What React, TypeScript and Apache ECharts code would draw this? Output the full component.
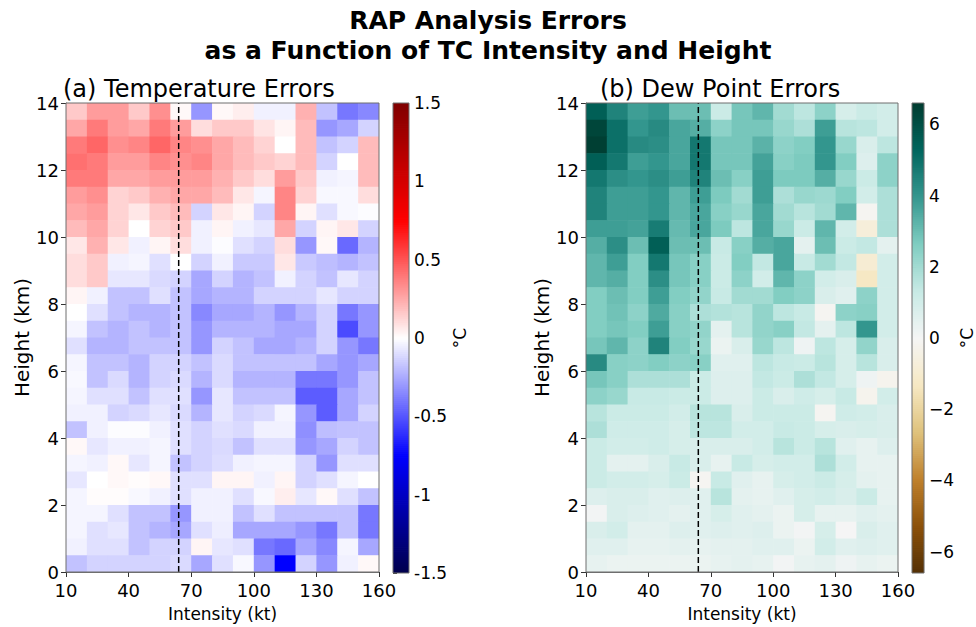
import React, { useEffect, useRef } from "react";
import * as echarts from "echarts";

// Bin centres: 10-kt intensity bins and 0.5-km height layers
const INTENSITY_BINS = [15, 25, 35, 45, 55, 65, 75, 85, 95, 105, 115, 125, 135, 145, 155];
const HEIGHT_BINS = [
  13.75, 13.25, 12.75, 12.25, 11.75, 11.25, 10.75, 10.25, 9.75, 9.25, 8.75, 8.25, 7.75, 7.25,
  6.75, 6.25, 5.75, 5.25, 4.75, 4.25, 3.75, 3.25, 2.75, 2.25, 1.75, 1.25, 0.75, 0.25,
];
const BIN_WIDTH_KT = 10;
const BIN_DEPTH_KM = 0.5;
const HURRICANE_KT = 64;

const X_TICKS = [10, 40, 70, 100, 130, 160];
const Y_TICKS = [0, 2, 4, 6, 8, 10, 12, 14];
const TEMP_TICKS = [-1.5, -1, -0.5, 0, 0.5, 1, 1.5];
const DEW_TICKS = [-6, -4, -2, 0, 2, 4, 6];
const TEMP_LIMIT = 1.5;
const DEW_LIMIT = 6.6;

// Temperature analysis error (°C), rows from 14 km down to 0 km
const TEMP_ERR = [
  [0.16, 0.29, 0.29, 0.16, 0.33, 0.02, -0.31, 0.02, 0.05, -0.04, -0.04, 0.23, -0.18, -0.4, -0.35],
  [0.26, 0.39, 0.29, 0.26, 0.39, 0.29, 0.1, 0.16, 0.16, 0.08, 0.03, 0.2, -0.31, -0.26, -0.13],
  [0.39, 0.45, 0.33, 0.36, 0.45, 0.36, 0.33, 0.26, 0.2, 0.13, 0.0, 0.2, -0.18, -0.13, 0.2],
  [0.42, 0.39, 0.29, 0.29, 0.36, 0.33, 0.36, 0.26, 0.2, 0.16, 0.13, 0.2, -0.13, 0.0, 0.2],
  [0.39, 0.39, 0.26, 0.26, 0.29, 0.29, 0.29, 0.23, 0.16, 0.1, 0.29, 0.16, -0.04, -0.03, 0.2],
  [0.29, 0.33, 0.13, 0.16, 0.23, 0.26, 0.26, 0.2, 0.07, -0.03, 0.36, 0.13, -0.02, -0.02, 0.1],
  [0.26, 0.29, 0.13, 0.07, 0.16, 0.2, -0.13, 0.07, 0.03, -0.13, 0.36, 0.03, -0.09, -0.02, -0.01],
  [0.2, 0.26, 0.13, 0.0, 0.13, 0.16, -0.04, 0.03, -0.04, -0.07, 0.26, -0.13, 0.03, 0.07, -0.13],
  [0.07, 0.23, 0.07, -0.04, 0.03, 0.1, -0.04, -0.01, -0.09, -0.13, 0.1, -0.31, 0.02, -0.44, -0.22],
  [0.1, 0.16, -0.04, -0.03, -0.09, 0.0, -0.13, -0.04, -0.16, -0.16, 0.07, -0.16, -0.19, -0.22, -0.18],
  [0.1, 0.16, -0.07, -0.07, -0.11, -0.13, -0.26, -0.13, -0.22, -0.18, -0.04, -0.13, -0.18, -0.07, -0.13],
  [0.03, -0.04, -0.18, -0.18, -0.09, -0.18, -0.26, -0.22, -0.22, -0.13, -0.13, -0.13, -0.07, -0.13, -0.13],
  [0.0, -0.09, -0.18, -0.22, -0.22, -0.18, -0.35, -0.26, -0.26, -0.22, -0.31, -0.22, -0.13, -0.4, -0.31],
  [-0.03, -0.18, -0.22, -0.18, -0.22, -0.18, -0.31, -0.22, -0.22, -0.22, -0.26, -0.26, -0.13, -0.53, -0.31],
  [-0.09, -0.22, -0.22, -0.18, -0.18, -0.18, -0.31, -0.13, -0.18, -0.26, -0.26, -0.22, -0.13, -0.31, -0.4],
  [-0.03, -0.18, -0.18, -0.22, -0.13, -0.13, -0.18, -0.11, -0.18, -0.18, -0.18, -0.18, -0.26, -0.31, -0.26],
  [-0.02, -0.18, -0.11, -0.22, -0.13, -0.11, -0.22, -0.11, -0.22, -0.22, -0.22, -0.4, -0.4, -0.31, -0.18],
  [-0.03, -0.09, -0.09, -0.18, -0.09, -0.09, -0.31, -0.07, -0.18, -0.18, -0.18, -0.48, -0.48, -0.26, -0.18],
  [-0.04, -0.04, -0.13, -0.11, -0.07, -0.11, -0.22, -0.07, -0.13, -0.11, -0.03, -0.31, -0.48, -0.26, -0.13],
  [-0.18, -0.04, -0.01, -0.01, -0.04, -0.09, -0.13, -0.09, -0.11, -0.04, -0.04, -0.33, -0.19, -0.18, -0.18],
  [0.02, -0.07, -0.04, -0.04, -0.03, -0.09, -0.13, -0.11, -0.18, -0.09, -0.09, -0.31, -0.26, -0.13, -0.18],
  [-0.03, -0.04, 0.02, -0.07, -0.03, -0.18, -0.13, -0.1, -0.04, -0.03, -0.03, -0.13, -0.31, -0.09, -0.09],
  [-0.07, 0.0, 0.02, 0.01, 0.02, -0.09, -0.09, 0.03, 0.03, -0.04, 0.03, -0.13, -0.09, -0.03, 0.0],
  [-0.03, 0.01, 0.01, -0.02, -0.04, -0.09, -0.04, -0.04, -0.09, -0.02, 0.05, -0.07, 0.02, -0.09, -0.18],
  [-0.03, -0.03, -0.09, -0.18, -0.18, -0.31, -0.04, -0.04, -0.18, -0.09, -0.18, -0.18, -0.18, -0.18, -0.4],
  [-0.03, -0.09, -0.07, -0.18, -0.22, -0.26, -0.09, -0.05, -0.26, -0.26, -0.26, -0.31, -0.4, -0.18, -0.4],
  [-0.04, -0.09, -0.09, -0.18, -0.13, -0.13, 0.03, -0.07, -0.09, -0.4, -0.44, -0.26, -0.35, -0.03, -0.26],
  [-0.18, -0.13, -0.13, -0.13, -0.13, -0.11, -0.26, -0.09, -0.02, -0.31, -0.75, -0.13, -0.31, -0.04, 0.02],
];

// Dew point analysis error (°C), rows from 14 km down to 0 km
const DEW_ERR = [
  [5.5, 4.5, 3.8, 4.0, 3.0, 3.0, 1.2, 2.8, 3.2, 2.0, 1.5, 2.4, 0.9, 1.2, 1.0],
  [6.3, 5.0, 4.0, 4.3, 3.6, 3.4, 2.4, 2.8, 2.8, 2.2, 1.8, 3.8, 1.6, 1.5, 1.0],
  [6.5, 5.0, 4.3, 4.2, 3.6, 4.8, 2.8, 2.8, 3.3, 2.4, 2.6, 4.0, 2.2, 0.8, 1.5],
  [5.5, 4.8, 3.8, 4.0, 3.6, 4.8, 2.8, 2.8, 3.7, 2.5, 2.7, 4.0, 2.6, 0.7, 2.4],
  [4.8, 4.2, 4.0, 4.2, 3.8, 4.5, 3.0, 2.5, 3.8, 2.7, 2.7, 3.4, 2.2, 1.2, 2.4],
  [4.5, 3.8, 3.8, 4.0, 3.2, 3.8, 2.7, 2.0, 3.8, 1.8, 2.2, 2.1, 2.6, 1.0, 1.8],
  [4.5, 3.8, 3.8, 4.0, 3.2, 3.6, 2.5, 2.2, 3.6, 2.0, 1.6, 2.0, 3.2, -0.1, 1.8],
  [3.8, 3.8, 3.7, 4.7, 3.1, 3.6, 2.7, 1.5, 3.6, 2.2, 1.2, 3.2, 1.0, -0.7, 1.8],
  [3.4, 4.2, 3.0, 5.5, 3.0, 3.0, 1.3, 2.5, 3.4, 3.6, 0.5, 3.0, 1.2, 1.4, 0.5],
  [3.2, 3.8, 2.6, 4.8, 2.8, 2.5, 1.2, 2.6, 1.4, 3.6, 1.3, 2.0, 1.4, -0.9, 1.0],
  [3.2, 3.4, 2.6, 4.2, 2.8, 2.5, 1.2, 2.4, 1.0, 3.2, 2.4, 1.0, 0.8, -1.3, 1.0],
  [2.6, 3.0, 2.6, 3.8, 2.6, 2.3, 1.3, 2.0, 2.0, 2.6, 2.4, 0.8, 0.6, 2.4, 1.0],
  [2.6, 2.9, 2.4, 3.5, 2.5, 1.8, 1.7, 1.6, 2.3, 1.5, 1.3, -0.1, 2.4, 2.5, 1.0],
  [2.6, 2.8, 2.6, 3.8, 2.5, 2.3, 0.5, 1.6, 2.3, 2.5, 1.4, 0.5, 1.5, 4.0, 1.0],
  [2.8, 3.2, 2.4, 4.5, 2.6, 2.2, 0.3, 0.8, 2.2, 1.5, 0.2, 1.5, 0.9, 2.3, 0.8],
  [4.3, 2.5, 2.4, 2.6, 2.4, 2.5, 0.6, 0.6, 1.5, 1.3, 1.2, 1.6, 0.9, 1.6, 0.8],
  [2.8, 2.5, 1.8, 1.8, 1.8, 1.2, 0.7, 0.7, 1.4, 1.2, 1.8, 1.4, 0.9, 0.2, -0.2],
  [2.4, 2.2, 1.3, 1.3, 1.2, 1.2, 0.7, 0.7, 1.2, 0.8, 1.1, 0.9, 1.3, -0.2, 1.0],
  [1.6, 1.2, 1.2, 1.2, 1.0, 1.6, 1.6, 0.8, 1.2, 1.2, 1.2, -0.1, 1.1, 1.0, 0.8],
  [1.8, 1.1, 1.1, 1.1, 0.9, 1.5, 1.5, 1.0, 1.0, 1.3, 1.2, 0.9, 0.8, 0.9, 0.8],
  [1.2, 1.0, 1.0, 1.1, 0.9, 0.8, 0.8, 0.8, 1.0, 1.6, 1.2, 1.6, 0.6, 0.4, 0.7],
  [1.2, 0.5, 0.5, 0.8, 1.3, 0.8, 0.4, 1.3, 0.9, 1.0, 1.0, 1.8, 1.0, 0.4, 0.4],
  [1.2, 1.0, 1.0, 0.9, 1.2, -0.1, 1.3, 0.6, 0.4, 0.9, 1.0, 1.2, 0.9, 0.5, 0.4],
  [0.7, 0.8, 0.8, 0.6, 0.7, 0.6, 1.6, 0.5, 0.4, 0.6, 0.9, 1.0, 0.8, 1.2, 0.4],
  [0.1, 0.8, 0.7, 0.6, 0.5, 0.6, 0.9, 0.6, 0.5, 0.3, 0.9, 0.4, 0.4, 0.6, 0.5],
  [0.8, 1.0, 0.5, 0.5, 0.7, 0.6, 0.7, 0.6, 0.7, 0.3, 0.1, 0.9, 0.0, 0.8, 0.6],
  [0.6, 0.6, 0.4, 0.4, 0.5, 0.4, 0.5, 0.5, 0.6, 0.6, 0.3, 1.0, 0.6, 0.7, 0.6],
  [0.4, 0.3, 0.3, 0.3, 0.3, 0.3, 0.4, 0.5, 0.4, 0.1, 0.4, 0.5, 0.2, 0.4, 0.3],
];

// Diverging colour maps (seismic and BrBG)
const SEISMIC = ["#00004d", "#0000ff", "#ffffff", "#ff0000", "#800000"];
const BRBG = [
  "#543005", "#8c510a", "#bf812d", "#dfc27d", "#f6e8c3", "#f5f5f5",
  "#c7eae5", "#80cdc1", "#35978f", "#01665e", "#003c30",
];

const FONT = "DejaVu Sans";
const TEXT = "#000";
const SPINE = "#6f6f6f";

const PANEL_TOP = 103;
const PANEL_HEIGHT = 470;

function cells(grid: number[][]) {
  const out: number[][] = [];
  grid.forEach((row, r) => {
    row.forEach((v, c) => out.push([INTENSITY_BINS[c], HEIGHT_BINS[r], v]));
  });
  return out;
}

// Evenly spaced swatches spanning a colour bar's range
function colourSteps(limit: number, n: number) {
  const out: number[][] = [];
  const step = (2 * limit) / n;
  for (let i = 0; i < n; i++) {
    const v = -limit + step * (i + 0.5);
    out.push([0.5, v, v, step]);
  }
  return out;
}

const cellRenderer = (params: any, api: any) => {
  const x = api.value(0);
  const y = api.value(1);
  const p0 = api.coord([x - BIN_WIDTH_KT / 2, y + BIN_DEPTH_KM / 2]);
  const p1 = api.coord([x + BIN_WIDTH_KT / 2, y - BIN_DEPTH_KM / 2]);
  return {
    type: "rect",
    shape: { x: p0[0], y: p0[1], width: p1[0] - p0[0] + 0.6, height: p1[1] - p0[1] + 0.6 },
    style: { fill: api.visual("color"), stroke: null },
  };
};

const barRenderer = (params: any, api: any) => {
  const v = api.value(1);
  const step = api.value(3);
  const p0 = api.coord([0, v + step / 2]);
  const p1 = api.coord([1, v - step / 2]);
  return {
    type: "rect",
    shape: { x: p0[0], y: p0[1] - 0.4, width: p1[0] - p0[0], height: p1[1] - p0[1] + 0.8 },
    style: { fill: api.visual("color"), stroke: null },
  };
};

const tickLabel = { color: TEXT, fontFamily: FONT, fontSize: 18 };

function mainAxes(idx: number) {
  const x = {
    type: "value",
    gridIndex: idx,
    min: 10,
    max: 160,
    name: "Intensity (kt)",
    nameLocation: "middle",
    nameGap: 33,
    nameTextStyle: { color: TEXT, fontFamily: FONT, fontSize: 17 },
    axisLine: { show: true, lineStyle: { color: SPINE, width: 1 } },
    axisTick: { show: true, inside: false, length: 5, lineStyle: { color: "#333" }, customValues: X_TICKS },
    axisLabel: { ...tickLabel, margin: 9, customValues: X_TICKS },
    splitLine: { show: false },
  };
  const y = {
    type: "value",
    gridIndex: idx,
    min: 0,
    max: 14,
    interval: 2,
    name: "Height (km)",
    nameLocation: "middle",
    nameGap: 31,
    nameRotate: 90,
    nameTextStyle: { color: TEXT, fontFamily: FONT, fontSize: 20 },
    axisLine: { show: true, lineStyle: { color: SPINE, width: 1 } },
    axisTick: { show: true, inside: false, length: 5, lineStyle: { color: "#333" }, customValues: Y_TICKS },
    axisLabel: { ...tickLabel, margin: 7, customValues: Y_TICKS },
    splitLine: { show: false },
  };
  return { x, y };
}

function barAxes(idx: number, limit: number, ticks: number[], fmt: (v: number) => string) {
  const x = {
    type: "value",
    gridIndex: idx,
    min: 0,
    max: 1,
    show: false,
  };
  const y = {
    type: "value",
    gridIndex: idx,
    position: "right",
    min: -limit,
    max: limit,
    name: "°C",
    nameLocation: "middle",
    nameGap: 30,
    nameRotate: 90,
    nameTextStyle: { color: TEXT, fontFamily: FONT, fontSize: 17 },
    axisLine: { show: false },
    axisTick: { show: true, inside: false, length: 4, lineStyle: { color: "#333" }, customValues: ticks },
    axisLabel: { ...tickLabel, fontSize: 17, margin: 5, customValues: ticks, formatter: fmt },
    splitLine: { show: false },
  };
  return { x, y };
}

export default function App() {
  const ref = useRef<HTMLDivElement>(null);

  useEffect(() => {
    if (!ref.current) return;
    const chart = echarts.init(ref.current, null, { renderer: "svg" });

    const a = mainAxes(0);
    const b = mainAxes(1);
    const ca = barAxes(2, TEMP_LIMIT, TEMP_TICKS, (v) => String(v));
    const cb = barAxes(3, DEW_LIMIT, DEW_TICKS, (v) => String(v).replace("-", "\u2212"));

    const frame = { show: true, borderColor: SPINE, borderWidth: 1, backgroundColor: "transparent", z: 10 };

    chart.setOption({
      animation: false,
      backgroundColor: "#ffffff",
      textStyle: { fontFamily: FONT },
      grid: [
        { left: 66, top: PANEL_TOP, width: 313, height: PANEL_HEIGHT, ...frame },
        { left: 586, top: PANEL_TOP, width: 312, height: PANEL_HEIGHT, ...frame },
        { left: 393, top: PANEL_TOP, width: 16, height: PANEL_HEIGHT, ...frame },
        { left: 912, top: PANEL_TOP, width: 16, height: PANEL_HEIGHT, ...frame },
      ],
      xAxis: [a.x, b.x, ca.x, cb.x],
      yAxis: [a.y, b.y, ca.y, cb.y],
      visualMap: [
        {
          type: "continuous",
          show: false,
          min: -TEMP_LIMIT,
          max: TEMP_LIMIT,
          dimension: 2,
          seriesIndex: [0, 2],
          inRange: { color: SEISMIC },
        },
        {
          type: "continuous",
          show: false,
          min: -DEW_LIMIT,
          max: DEW_LIMIT,
          dimension: 2,
          seriesIndex: [3, 5],
          inRange: { color: BRBG },
        },
      ],
      series: [
        {
          type: "custom",
          xAxisIndex: 0,
          yAxisIndex: 0,
          data: cells(TEMP_ERR),
          encode: { x: 0, y: 1 },
          renderItem: cellRenderer,
          clip: true,
        },
        {
          type: "line",
          xAxisIndex: 0,
          yAxisIndex: 0,
          data: [[HURRICANE_KT, 0], [HURRICANE_KT, 14]],
          symbol: "none",
          lineStyle: { color: "#000", width: 1.5, type: [6, 3] },
          z: 5,
        },
        {
          type: "custom",
          xAxisIndex: 2,
          yAxisIndex: 2,
          data: colourSteps(TEMP_LIMIT, 240),
          encode: { x: 0, y: 1 },
          renderItem: barRenderer,
          clip: true,
        },
        {
          type: "custom",
          xAxisIndex: 1,
          yAxisIndex: 1,
          data: cells(DEW_ERR),
          encode: { x: 0, y: 1 },
          renderItem: cellRenderer,
          clip: true,
        },
        {
          type: "line",
          xAxisIndex: 1,
          yAxisIndex: 1,
          data: [[HURRICANE_KT, 0], [HURRICANE_KT, 14]],
          symbol: "none",
          lineStyle: { color: "#000", width: 1.5, type: [6, 3] },
          z: 5,
        },
        {
          type: "custom",
          xAxisIndex: 3,
          yAxisIndex: 3,
          data: colourSteps(DEW_LIMIT, 240),
          encode: { x: 0, y: 1 },
          renderItem: barRenderer,
          clip: true,
        },
      ],
      graphic: [
        {
          type: "text",
          x: 488,
          y: 20,
          style: {
            text: "RAP Analysis Errors",
            fill: TEXT,
            font: `bold 25px "${FONT}"`,
            align: "center",
            verticalAlign: "middle",
          },
        },
        {
          type: "text",
          x: 488,
          y: 50,
          style: {
            text: "as a Function of TC Intensity and Height",
            fill: TEXT,
            font: `bold 25px "${FONT}"`,
            align: "center",
            verticalAlign: "middle",
          },
        },
        {
          type: "text",
          x: 63,
          y: 89,
          style: {
            text: "(a) Temperature Errors",
            fill: TEXT,
            font: `24px "${FONT}"`,
            align: "left",
            verticalAlign: "middle",
          },
        },
        {
          type: "text",
          x: 600,
          y: 89,
          style: {
            text: "(b) Dew Point Errors",
            fill: TEXT,
            font: `24px "${FONT}"`,
            align: "left",
            verticalAlign: "middle",
          },
        },
      ],
    });

    return () => chart.dispose();
  }, []);

  return (
    <div
      ref={ref}
      style={{ position: "fixed", left: 0, top: 0, width: 976, height: 627, background: "#fff" }}
    />
  );
}
